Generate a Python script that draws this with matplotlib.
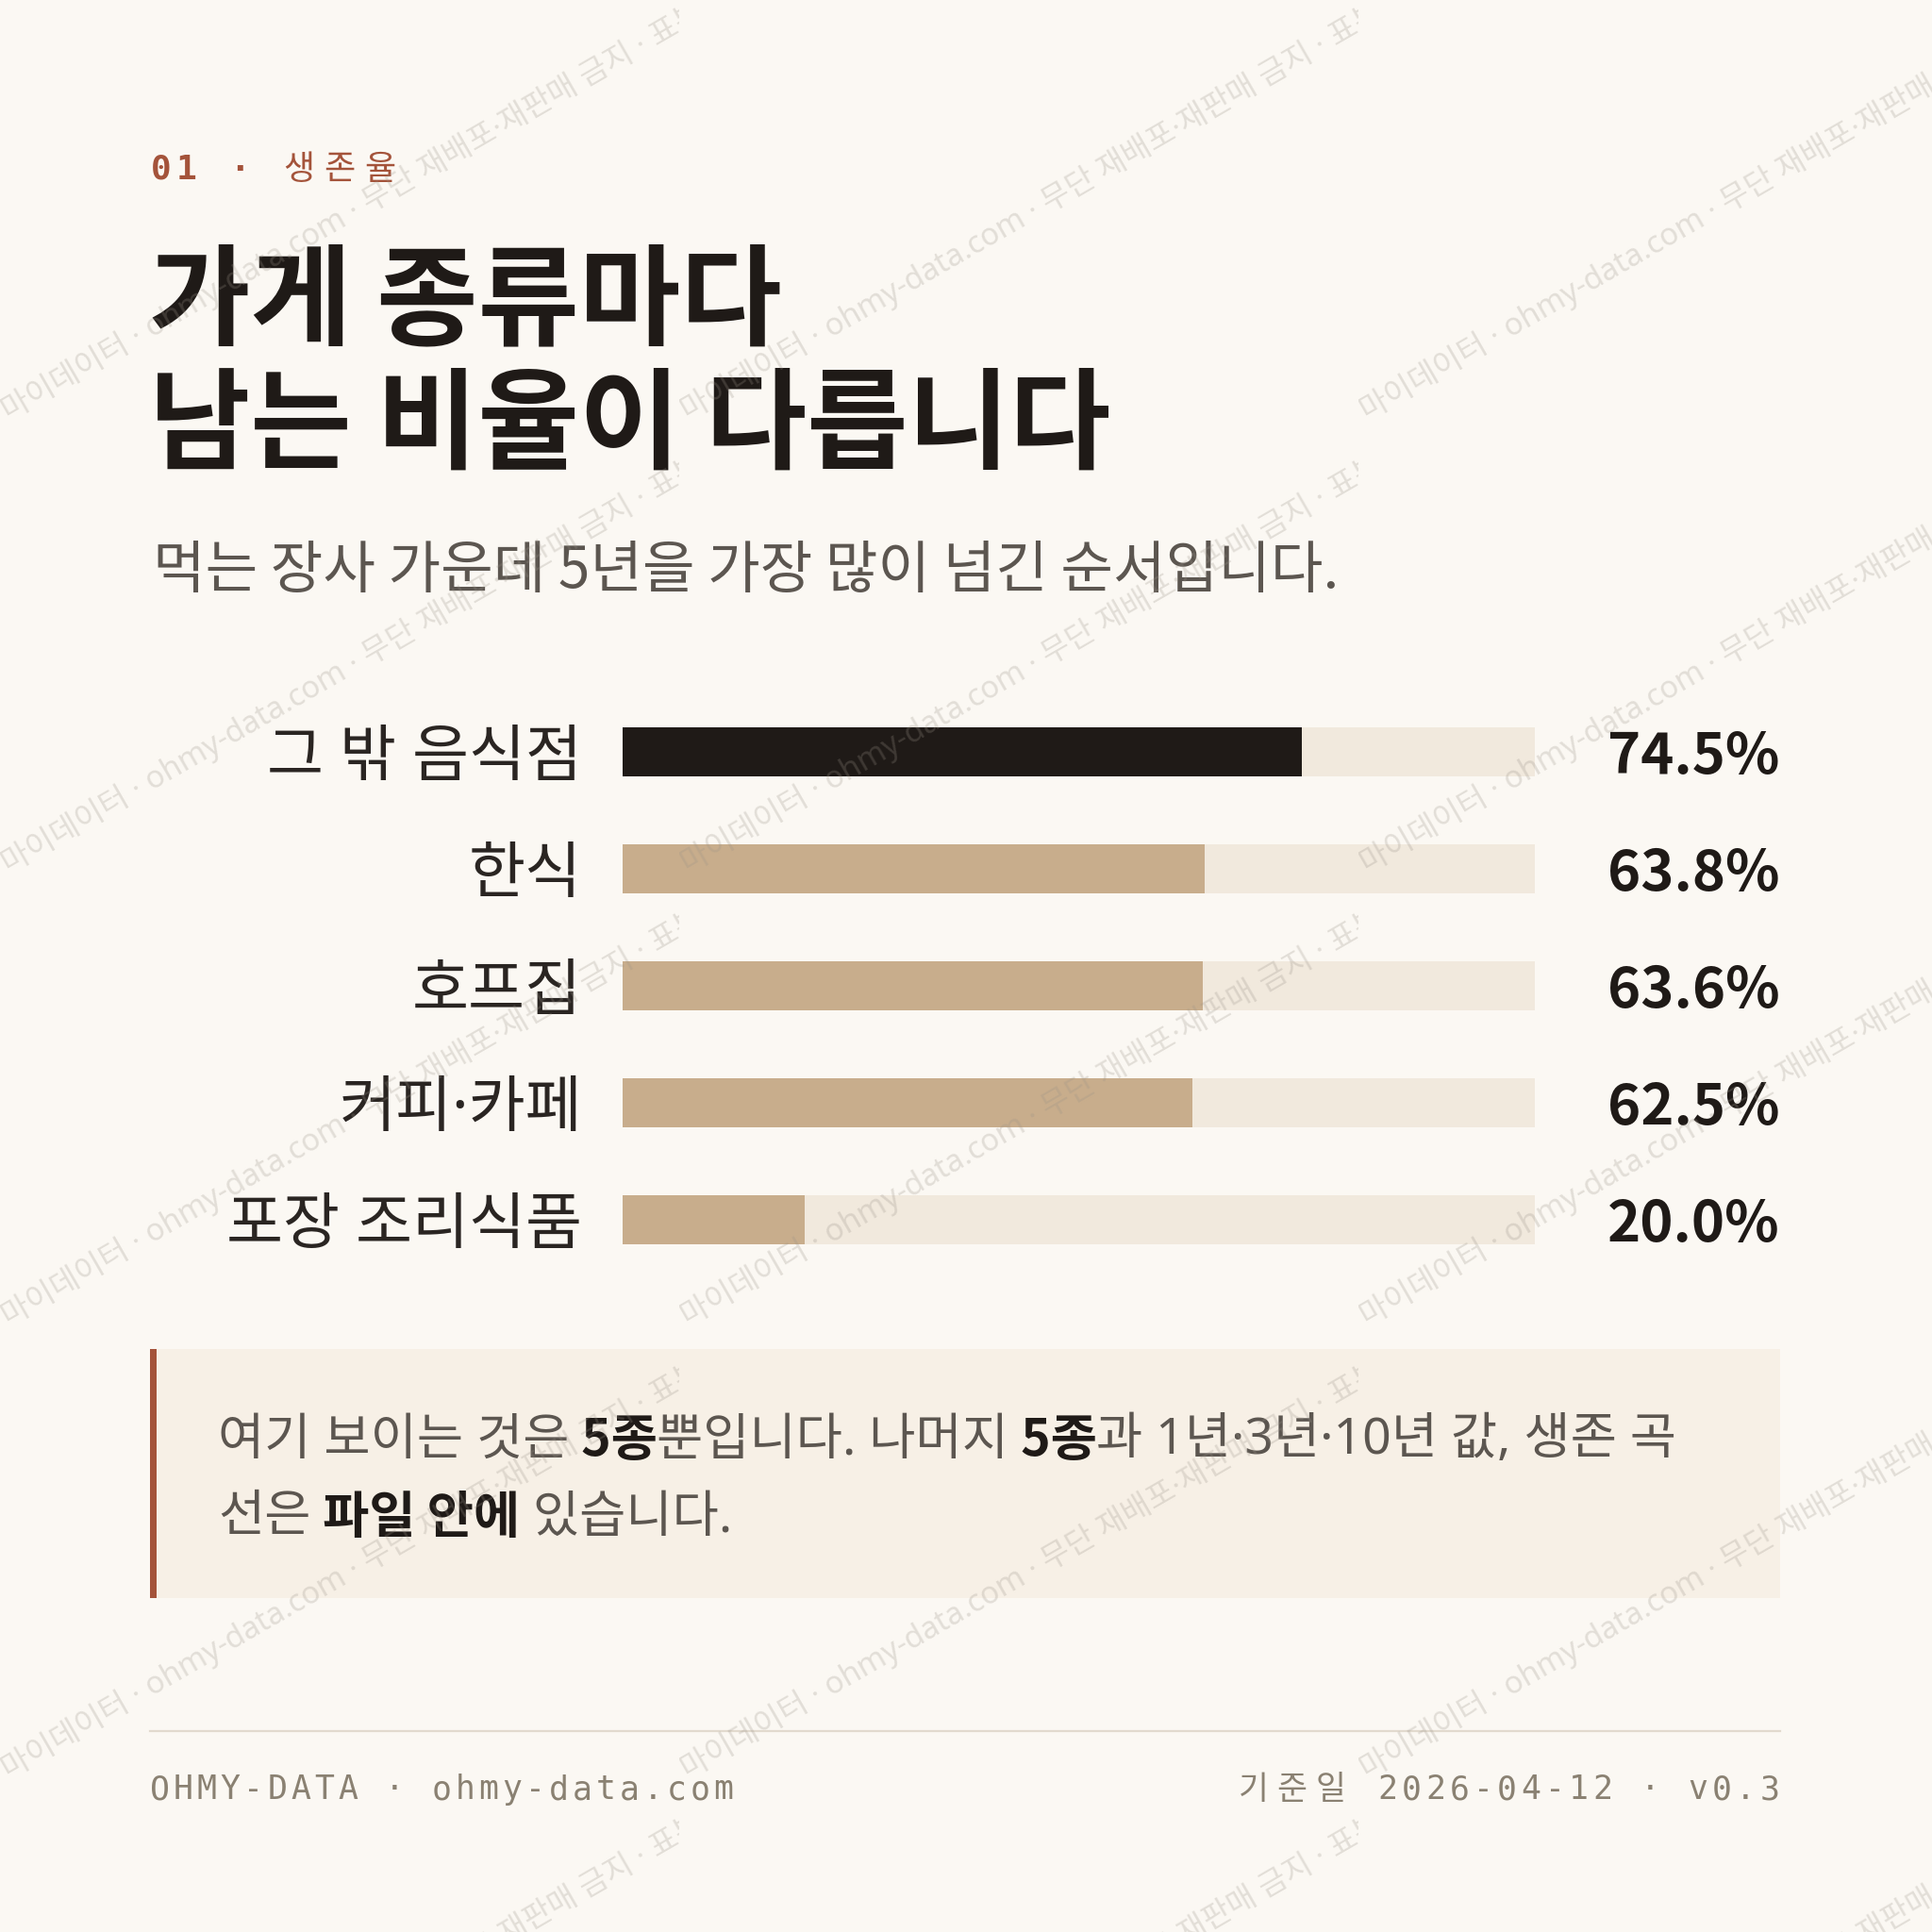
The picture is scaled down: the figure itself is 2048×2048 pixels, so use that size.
import matplotlib
matplotlib.use("Agg")
import matplotlib.pyplot as plt
from matplotlib.patches import Rectangle
from matplotlib.transforms import blended_transform_factory

plt.rcParams['font.family'] = ['Noto Sans CJK KR', 'DejaVu Sans']

# data
categories = ['그 밖 음식점', '한식', '호프집', '커피·카페', '포장 조리식품']
survival = [74.5, 63.8, 63.6, 62.5, 20.0]
value_labels = ['74.5%', '63.8%', '63.6%', '62.5%', '20.0%']

kicker_num = '01'
kicker_word = '생존율'
title_lines = ['가게 종류마다', '남는 비율이 다릅니다']
subtitle = '먹는 장사 가운데 5년을 가장 많이 넘긴 순서입니다.'
note_line1 = [('여기 보이는 것은', False), (' 5종', True), ('뿐입니다. 나머지', False),
              (' 5종', True), ('과 1년·3년·10년 값, 생존 곡', False)]
note_line2 = [('선은', False), (' 파일 안에', True), (' 있습니다.', False)]
footer_left = 'OHMY-DATA · ohmy-data.com'
footer_right_kr = '기준일'
footer_right = '2026-04-12 · v0.3'
watermark = '마이데이터 · ohmy-data.com · 무단 재배포·재판매 금지 · 표본 데이터'

BG = '#fbf8f3'
INK = '#1f1a17'
TAN = '#c8ad8c'
TRACK = '#f1e9dd'
RUST = '#a4533a'
GREY = '#5c5650'
FOOT = '#8a8172'
MIXED = ['Noto Sans', 'Noto Sans CJK KR']

W = 2048
fig = plt.figure(figsize=(20.48, 20.48), dpi=100, facecolor=BG)
bg = fig.add_axes([0, 0, 1, 1])
bg.set_xlim(0, W)
bg.set_ylim(W, 0)
bg.axis('off')
bg.set_facecolor(BG)
renderer = fig.canvas.get_renderer()


def spaced(x, y, s, size, color, spacing, ha='left', weight='normal'):
    fams = ['DejaVu Sans Mono', 'Noto Sans CJK KR']
    widths = []
    for ch in s:
        t = bg.text(0, 0, ch if ch != ' ' else 'a', fontsize=size, family=fams,
                    fontweight=weight)
        widths.append(t.get_window_extent(renderer).width)
        t.remove()
    adv = [w + spacing for w in widths]
    total = sum(adv) - spacing
    if ha == 'right':
        x = x - total
    start = x
    for ch, a in zip(s, adv):
        if ch != ' ':
            bg.text(x, y, ch, fontsize=size, family=fams, color=color,
                    va='center', ha='left', fontweight=weight)
        x += a
    return start


# kicker
spaced(160, 180, kicker_num, 26, RUST, 5, weight='bold')
bg.text(254, 180, '·', fontsize=26, family=['DejaVu Sans Mono'],
        fontweight='bold', color=RUST, va='center', ha='center')
spaced(300, 180, kicker_word, 26, RUST, 10)

# title
for i, line in enumerate(title_lines):
    bg.text(158, 322 + i * 132, line, fontsize=84, fontweight='bold',
            color=INK, va='center', ha='left')

# subtitle
bg.text(162, 606, subtitle, fontsize=43.5, color=GREY, va='center', ha='left')

# bars
ax = fig.add_axes([660 / W, 1 - 1355 / W, 967 / W, 620 / W])
ax.set_facecolor('none')
y = list(range(len(categories)))
ax.barh(y, [100] * len(y), height=0.42, color=TRACK, zorder=1)
ax.barh(y, survival, height=0.42, color=[INK] + [TAN] * (len(y) - 1), zorder=2)
ax.set_xlim(0, 100)
ax.set_ylim(len(y) - 0.5, -0.5)
ax.set_yticks(y)
ax.set_yticklabels(categories, fontsize=47, color='#2a2522', family=MIXED)
ax.tick_params(axis='y', length=0, pad=31)
ax.set_xticks([])
for s in ax.spines.values():
    s.set_visible(False)
tr = blended_transform_factory(ax.transAxes, ax.transData)
for i, lab in enumerate(value_labels):
    ax.text(1.268, i + 0.05, lab, transform=tr, fontsize=43, fontweight='bold',
            color=INK, ha='right', va='center')

# note box
bg.add_patch(Rectangle((159, 1430), 1728, 264, facecolor='#f7f0e6', edgecolor='none'))
bg.add_patch(Rectangle((159, 1430), 7, 264, facecolor=RUST, edgecolor='none'))


def rich(x, y, parts, size):
    for s, bold in parts:
        t = bg.text(x, y, s, fontsize=size, va='center', ha='left',
                    family=['Noto Sans CJK KR'] if bold else MIXED,
                    fontweight='bold' if bold else 'normal',
                    color=INK if bold else GREY)
        x += t.get_window_extent(renderer).width


rich(231, 1528, note_line1, 38.5)
rich(231, 1610, note_line2, 38.5)

# footer
bg.plot([159, 1887], [1835, 1835], color='#e2dace', lw=1.6)
spaced(159, 1897, footer_left, 25, FOOT, 4)
date_x = spaced(1886, 1897, footer_right, 25, FOOT, 4.4, ha='right')
spaced(date_x - 34, 1897, footer_right_kr, 25, FOOT, 9, ha='right')

# watermark overlay
wm = fig.add_axes([0, 0, 1, 1])
wm.set_xlim(0, W)
wm.set_ylim(W, 0)
wm.axis('off')
wm.patch.set_alpha(0)
for tx in range(0, W, 720):
    for ty in range(0, W + 480, 480):
        t = wm.text(tx + 9, ty + 446, watermark, fontsize=23.5, color='#9a9288',
                    alpha=0.26, rotation=30, rotation_mode='anchor', family=MIXED,
                    ha='left', va='baseline', clip_on=True)
        t.set_clip_path(Rectangle((tx, ty), 720, 480, transform=wm.transData))

fig.savefig('out.png', dpi=100, facecolor=BG)
